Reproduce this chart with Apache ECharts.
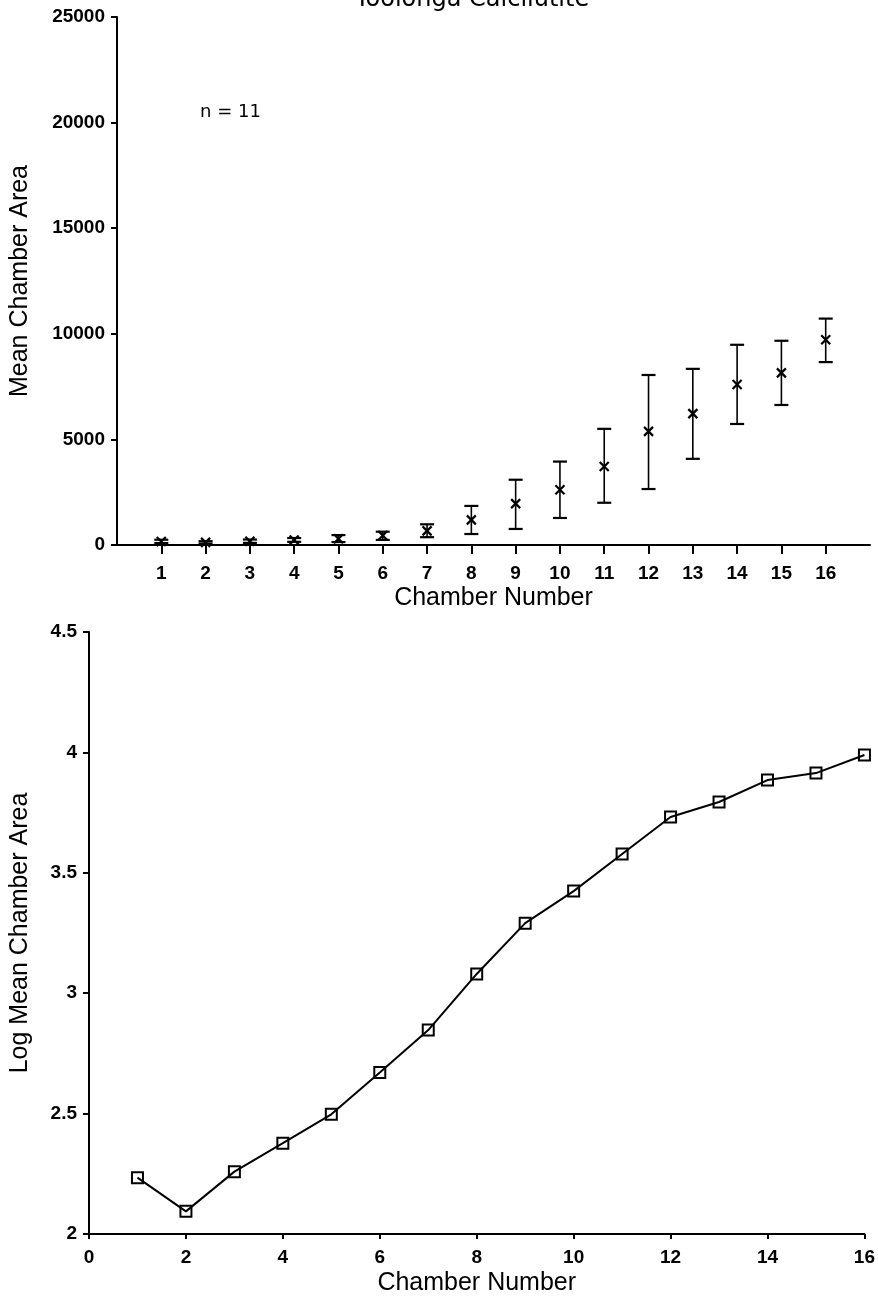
<!DOCTYPE html>
<html>
<head>
<meta charset="utf-8">
<script src="https://cdn.jsdelivr.net/npm/echarts@6/dist/echarts.min.js"></script>
<style>
html,body{margin:0;padding:0;background:#fff;}
#chart{width:878px;height:1301px;}
</style>
</head>
<body>
<div id="chart"></div>
<script>
// ---- data ----
const chambers = [1,2,3,4,5,6,7,8,9,10,11,12,13,14,15,16];
const meanArea  = [170,125,180,240,300,450,670,1190,1960,2620,3720,5380,6220,7600,8150,9720];
const upperArea = [250,180,260,330,470,630,980,1850,3090,3950,5500,8050,8340,9480,9670,10720];
const lowerArea = [90,70,100,150,140,240,370,520,760,1280,2000,2650,4080,5730,6630,8660];
const logMeanArea = [2.234,2.094,2.259,2.377,2.497,2.671,2.847,3.08,3.291,3.424,3.578,3.732,3.794,3.885,3.914,3.989];
const topYTicks = [0,5000,10000,15000,20000,25000];
const bottomYTicks = [2,2.5,3,3.5,4,4.5];
const bottomXTicks = [0,2,4,6,8,10,12,14,16];
const titleText = 'Toolonga Calcilutite';
const nText = 'n = 11';

const tickFont = {color:'#000', fontFamily:'Liberation Sans', fontSize:19, fontWeight:'bold'};
const nameFont = {color:'#000', fontFamily:'Liberation Sans', fontSize:25};
const axisLine = {show:true, lineStyle:{color:'#000', width:2}};
const plain = v => String(v);

const chart = echarts.init(document.getElementById('chart'), null, {renderer:'canvas'});

const errData = chambers.map((c,i)=>[c, lowerArea[i], upperArea[i], meanArea[i]]);

function renderErr(params, api){
  const x = api.value(0);
  const lo = api.coord([x, api.value(1)]);
  const hi = api.coord([x, api.value(2)]);
  const m  = api.coord([x, api.value(3)]);
  const st = {stroke:'#000', lineWidth:1.6};
  const cw = 7, xs = 4.5;
  return {type:'group', children:[
    {type:'line', shape:{x1:lo[0], y1:lo[1], x2:hi[0], y2:hi[1]}, style:st},
    {type:'line', shape:{x1:hi[0]-cw, y1:hi[1], x2:hi[0]+cw, y2:hi[1]}, style:{stroke:'#000', lineWidth:2.2}},
    {type:'line', shape:{x1:lo[0]-cw, y1:lo[1], x2:lo[0]+cw, y2:lo[1]}, style:{stroke:'#000', lineWidth:2.2}},
    {type:'line', shape:{x1:m[0]-xs, y1:m[1]-xs, x2:m[0]+xs, y2:m[1]+xs}, style:{stroke:'#000', lineWidth:2.2}},
    {type:'line', shape:{x1:m[0]-xs, y1:m[1]+xs, x2:m[0]+xs, y2:m[1]-xs}, style:{stroke:'#000', lineWidth:2.2}}
  ]};
}

const option = {
  animation:false,
  backgroundColor:'#fff',
  title:{text:titleText, left:350, top:-17, textStyle:{color:'#000', fontFamily:'DejaVu Sans', fontSize:24, fontWeight:'normal'}},
  graphic:[{type:'text', left:200, top:103, style:{text:nText, fill:'#000', font:'18px DejaVu Sans'}}],
  grid:[
    {left:116, top:17, width:754, height:528},
    {left:88, top:632, width:777, height:602}
  ],
  xAxis:[
    {gridIndex:0, type:'value', min:0, max:17, interval:1,
     name:'Chamber Number', nameLocation:'middle', nameGap:41, nameTextStyle:nameFont,
     axisLine:axisLine, splitLine:{show:false},
     axisTick:{show:true, length:9, inside:false, lineStyle:{color:'#000', width:2}, customValues:chambers},
     axisLabel:Object.assign({margin:19, customValues:chambers, formatter:plain}, tickFont)},
    {gridIndex:1, type:'value', min:0, max:16, interval:2,
     name:'Chamber Number', nameLocation:'middle', nameGap:37, nameTextStyle:nameFont,
     axisLine:axisLine, splitLine:{show:false},
     axisTick:{show:true, length:5, lineStyle:{color:'#000', width:2}},
     axisLabel:Object.assign({margin:14, formatter:plain}, tickFont)}
  ],
  yAxis:[
    {gridIndex:0, type:'value', min:0, max:25000, interval:5000,
     name:'Mean Chamber Area', nameLocation:'middle', nameGap:84, nameTextStyle:nameFont,
     axisLine:axisLine, splitLine:{show:false},
     axisTick:{show:true, length:6, lineStyle:{color:'#000', width:2}},
     axisLabel:Object.assign({margin:12, formatter:plain}, tickFont)},
    {gridIndex:1, type:'value', min:2, max:4.5, interval:0.5,
     name:'Log Mean Chamber Area', nameLocation:'middle', nameGap:56, nameTextStyle:nameFont,
     axisLine:axisLine, splitLine:{show:false},
     axisTick:{show:true, length:6, lineStyle:{color:'#000', width:2}},
     axisLabel:Object.assign({margin:12, formatter:plain}, tickFont)}
  ],
  series:[
    {type:'custom', xAxisIndex:0, yAxisIndex:0, data:errData, renderItem:renderErr, clip:false},
    {type:'line', xAxisIndex:1, yAxisIndex:1,
     data:chambers.map((c,i)=>[c, logMeanArea[i]]),
     lineStyle:{color:'#000', width:2},
     symbol:'rect', symbolSize:11, showSymbol:true,
     itemStyle:{color:'rgba(255,255,255,0)', borderColor:'#000', borderWidth:2}}
  ]
};
chart.setOption(option);
</script>
</body>
</html>
